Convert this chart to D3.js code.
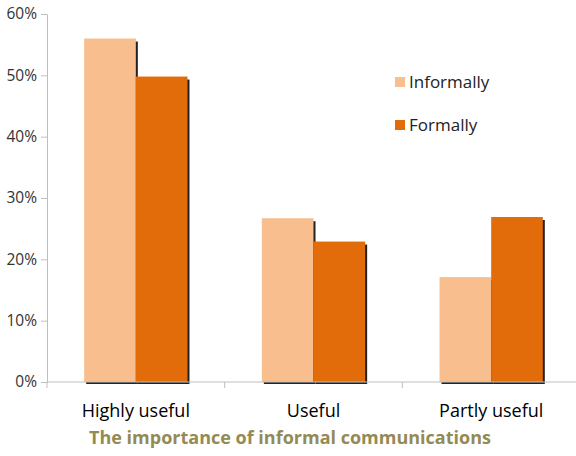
<!DOCTYPE html>
<html>
<head>
<meta charset="utf-8">
<script src="https://cdn.jsdelivr.net/npm/d3@7"></script>
<style>
  body { margin: 0; background: #fff; }
  svg { display: block; }
</style>
</head>
<body>
<svg id="chart" width="576" height="456"></svg>
<script>
// chart data
var categories = ["Highly useful", "Useful", "Partly useful"];
var seriesNames = ["Informally", "Formally"];
var informally = [56, 26.7, 17.1];
var formally = [49.8, 22.9, 26.9];
var yTicks = [0, 10, 20, 30, 40, 50, 60];
var colors = ["#f8be8e", "#e36c0a"];

var svg = d3.select("#chart");
var plotLeft = 47, plotRight = 580, plotTop = 14, plotBottom = 382;

var x = d3.scaleBand().domain(categories).range([plotLeft, plotRight]);
var inner = d3.scaleBand().domain(seriesNames).range([0, x.bandwidth()])
    .paddingInner(0).paddingOuter(0.72);
var y = d3.scaleLinear().domain([0, 60]).range([plotBottom, plotTop]);

var rows = categories.map(function(c, i){
    return { cat: c, vals: [informally[i], formally[i]] };
});

// y axis
var yAxis = svg.append("g")
    .attr("transform", "translate(" + plotLeft + ",0)")
    .call(d3.axisLeft(y).tickValues(yTicks).tickSize(6).tickPadding(4)
        .tickFormat(function(d){ return d + "%"; }));
yAxis.selectAll("path, line").attr("stroke", "#bfbfbf");
yAxis.selectAll("text")
    .attr("font-family", "Open Sans, sans-serif")
    .attr("font-size", 15.5)
    .attr("fill", "#333");

// bars with a dark drop shadow on the right
var groups = svg.selectAll("g.cat").data(rows).enter().append("g")
    .attr("class", "cat")
    .attr("transform", function(d){ return "translate(" + x(d.cat) + ",0)"; });

groups.each(function(d){
    var g = d3.select(this);
    d.vals.forEach(function(v, j){
        g.append("rect")
            .attr("x", inner(seriesNames[j]) + 2)
            .attr("y", y(v) + 3)
            .attr("width", inner.bandwidth())
            .attr("height", plotBottom - y(v) - 1)
            .attr("fill", "#222");
    });
    d.vals.forEach(function(v, j){
        g.append("rect")
            .attr("x", inner(seriesNames[j]))
            .attr("y", y(v))
            .attr("width", inner.bandwidth())
            .attr("height", plotBottom - y(v))
            .attr("fill", colors[j]);
    });
});

// x axis
var xAxis = svg.append("g")
    .attr("transform", "translate(0," + plotBottom + ")");
xAxis.append("line")
    .attr("x1", plotLeft).attr("x2", plotRight)
    .attr("stroke", "#bfbfbf");
xAxis.selectAll("line.tick").data(categories).enter().append("line")
    .attr("class", "tick")
    .attr("x1", function(d){ return x(d); })
    .attr("x2", function(d){ return x(d); })
    .attr("y1", 0).attr("y2", 6)
    .attr("stroke", "#bfbfbf");
xAxis.selectAll("text").data(categories).enter().append("text")
    .attr("x", function(d){ return x(d) + x.bandwidth() / 2; })
    .attr("y", 35)
    .attr("text-anchor", "middle")
    .attr("font-family", "Open Sans, sans-serif")
    .attr("font-size", 18)
    .attr("fill", "#000")
    .text(function(d){ return d; });

// legend
var legend = svg.selectAll("g.legend").data(seriesNames).enter().append("g")
    .attr("class", "legend")
    .attr("transform", function(d, i){ return "translate(395," + (82 + i * 43) + ")"; });
legend.append("rect")
    .attr("x", 0).attr("y", -5)
    .attr("width", 10).attr("height", 10)
    .attr("fill", function(d, i){ return colors[i]; });
legend.append("text")
    .attr("x", 14).attr("y", 6)
    .attr("font-family", "Open Sans, sans-serif")
    .attr("font-size", 17)
    .attr("fill", "#222")
    .text(function(d){ return d; });

// title
svg.append("text")
    .attr("x", 290).attr("y", 444)
    .attr("text-anchor", "middle")
    .attr("font-family", "Open Sans, sans-serif")
    .attr("font-size", 18)
    .attr("font-weight", "bold")
    .attr("fill", "#948a54")
    .text("The importance of informal communications");
</script>
</body>
</html>
